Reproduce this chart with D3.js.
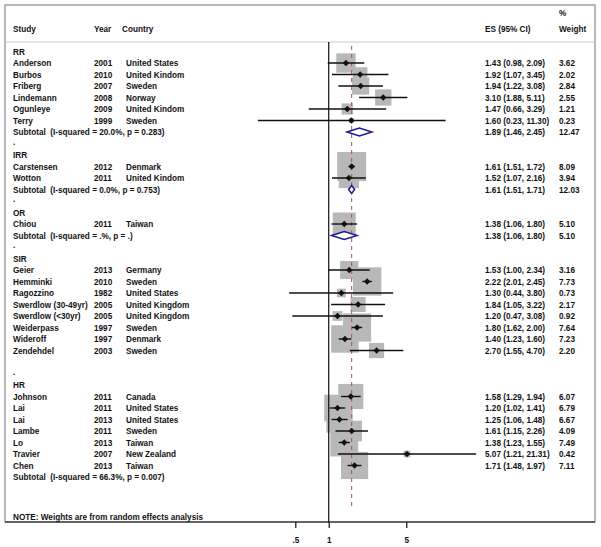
<!DOCTYPE html>
<html>
<head>
<meta charset="utf-8">
<script src="https://cdn.jsdelivr.net/npm/d3@7/dist/d3.min.js"></script>
<style>
  body { margin: 0; background: #fff; }
  svg { display: block; }
  text { font-family: Arial, "Liberation Sans", sans-serif; font-size: 8.2px; font-weight: bold; fill: #111; white-space: pre; }
</style>
</head>
<body>
<svg id="chart" width="601" height="547"></svg>
<script>
// ---- data ----
const groups = ["RR", "IRR", "OR", "SIR", "HR"];

const studyNames = ["Anderson", "Burbos", "Friberg", "Lindemann", "Ogunleye", "Terry",
  "Carstensen", "Wotton",
  "Chiou",
  "Geier", "Hemminki", "Ragozzino", "Swerdlow (30-49yr)", "Swerdlow (<30yr)", "Weiderpass", "Wideroff", "Zendehdel",
  "Johnson", "Lai", "Lai", "Lambe", "Lo", "Travier", "Chen"];
const studyGroup = ["RR", "RR", "RR", "RR", "RR", "RR",
  "IRR", "IRR",
  "OR",
  "SIR", "SIR", "SIR", "SIR", "SIR", "SIR", "SIR", "SIR",
  "HR", "HR", "HR", "HR", "HR", "HR", "HR"];
const years = ["2001", "2010", "2007", "2008", "2009", "1999",
  "2012", "2011",
  "2011",
  "2013", "2010", "1982", "2005", "2005", "1997", "1997", "2003",
  "2011", "2011", "2013", "2011", "2013", "2007", "2013"];
const countries = ["United States", "United Kindom", "Sweden", "Norway", "United Kindom", "Sweden",
  "Denmark", "United Kindom",
  "Taiwan",
  "Germany", "Sweden", "United States", "United Kingdom", "United Kingdom", "Sweden", "Denmark", "Sweden",
  "Canada", "United States", "United States", "Sweden", "Taiwan", "New Zealand", "Taiwan"];
const es    = [1.43, 1.92, 1.94, 3.10, 1.47, 1.60, 1.61, 1.52, 1.38, 1.53, 2.22, 1.30, 1.84, 1.20, 1.80, 1.40, 2.70, 1.58, 1.20, 1.25, 1.61, 1.38, 5.07, 1.71];
const lower = [0.98, 1.07, 1.22, 1.88, 0.66, 0.23, 1.51, 1.07, 1.06, 1.00, 2.01, 0.44, 1.05, 0.47, 1.62, 1.23, 1.55, 1.29, 1.02, 1.06, 1.15, 1.23, 1.21, 1.48];
const upper = [2.09, 3.45, 3.08, 5.11, 3.29, 11.30, 1.72, 2.16, 1.80, 2.34, 2.45, 3.80, 3.22, 3.08, 2.00, 1.60, 4.70, 1.94, 1.41, 1.48, 2.26, 1.55, 21.31, 1.97];
const weights = [3.62, 2.02, 2.84, 2.55, 1.21, 0.23, 8.09, 3.94, 5.10, 3.16, 7.73, 0.73, 2.17, 0.92, 7.64, 7.23, 2.20, 6.07, 6.79, 6.67, 4.09, 7.49, 0.42, 7.11];

// subtotals per group (null = not shown)
const subLabels = ["Subtotal  (I-squared = 20.0%, p = 0.283)", "Subtotal  (I-squared = 0.0%, p = 0.753)",
  "Subtotal  (I-squared = .%, p = .)", null, "Subtotal  (I-squared = 66.3%, p = 0.007)"];
const subES    = [1.89, 1.61, 1.38, null, null];
const subLower = [1.46, 1.51, 1.06, null, null];
const subUpper = [2.45, 1.71, 1.80, null, null];
const subW     = [12.47, 12.03, 5.10, null, null];

const overallES = 1.61;
const tickVals = [0.5, 1, 5];
const tickLabels = [".5", "1", "5"];

// ---- layout ----
const svg = d3.select("#chart");
const frame = { l: 5, t: 5, r: 595, b: 522 };
const rowY0 = 51.5, rowH = 11.5;
const colStudy = 13, colYear = 94, colCountry = 126, colES = 485, colW = 559;
const ink = "#111";
const boxFill = "#b8b8b8";
const navy = "#1c1c8e";

const x = d3.scaleLog().domain([0.5, 5]).range([295.3, 406.3]);
const fmt = d3.format(".2f");
const ciText = (e, l, u) => `${fmt(e)} (${fmt(l)}, ${fmt(u)})`;

// build row list
const rows = [];
let r = 0;
groups.forEach((g, gi) => {
  if (gi > 0) { rows.push({ type: "dot", i: r++ }); }
  rows.push({ type: "group", label: g, i: r++ });
  studyGroup.forEach((sg, k) => {
    if (sg === g) rows.push({ type: "study", k, i: r++ });
  });
  rows.push({ type: "sub", gi, i: r++ });
});
const yRow = i => rowY0 + rowH * i;

// frame
svg.append("rect").attr("x", frame.l).attr("y", frame.t)
  .attr("width", frame.r - frame.l).attr("height", frame.b - frame.t)
  .attr("fill", "none").attr("stroke", "#8a8a8a").attr("stroke-width", 1.2);
svg.append("line").attr("x1", frame.l).attr("x2", frame.r).attr("y1", 42).attr("y2", 42)
  .attr("stroke", "#c8c8c8").attr("stroke-width", 1);

// headers
const hdr = (tx, ty, t) => svg.append("text").attr("x", tx).attr("y", ty).text(t);
hdr(colStudy, 32, "Study");
hdr(colYear, 32, "Year");
hdr(122, 32, "Country");
hdr(colES, 32, "ES (95% CI)");
hdr(colW, 16, "%");
hdr(colW, 32, "Weight");

// weight boxes first
const studyRows = rows.filter(d => d.type === "study");
const boxK = 10.2;
svg.append("g").selectAll("rect").data(studyRows).join("rect")
  .attr("x", d => x(es[d.k]) - boxK * Math.sqrt(weights[d.k]) / 2)
  .attr("y", d => yRow(d.i) - boxK * Math.sqrt(weights[d.k]) / 2)
  .attr("width", d => boxK * Math.sqrt(weights[d.k]))
  .attr("height", d => boxK * Math.sqrt(weights[d.k]))
  .attr("fill", boxFill);

// null line and overall line
svg.append("line").attr("x1", x(1)).attr("x2", x(1)).attr("y1", 42).attr("y2", frame.b)
  .attr("stroke", ink).attr("stroke-width", 1.2);
svg.append("line").attr("x1", x(overallES)).attr("x2", x(overallES)).attr("y1", 46).attr("y2", 508)
  .attr("stroke", "#a0506e").attr("stroke-width", 1).attr("stroke-dasharray", "4,4");

// CI lines + markers
svg.append("g").selectAll("line").data(studyRows).join("line")
  .attr("x1", d => x(lower[d.k])).attr("x2", d => x(upper[d.k]))
  .attr("y1", d => yRow(d.i)).attr("y2", d => yRow(d.i))
  .attr("stroke", ink).attr("stroke-width", 1.4);
svg.append("g").selectAll("path").data(studyRows).join("path")
  .attr("d", d => { const cx = x(es[d.k]), cy = yRow(d.i), s = 3.2;
    return `M${cx - s},${cy}L${cx},${cy - s}L${cx + s},${cy}L${cx},${cy + s}Z`; })
  .attr("fill", ink);

// subtotal diamonds
const subRows = rows.filter(d => d.type === "sub" && subES[d.gi] != null);
svg.append("g").selectAll("path").data(subRows).join("path")
  .attr("d", d => { const cy = yRow(d.i), h = 4;
    return `M${x(subLower[d.gi])},${cy}L${x(subES[d.gi])},${cy - h}L${x(subUpper[d.gi])},${cy}L${x(subES[d.gi])},${cy + h}Z`; })
  .attr("fill", "#fff").attr("stroke", navy).attr("stroke-width", 1.5);

// row text
const base = 3;
rows.forEach(d => {
  const ty = yRow(d.i) + base;
  if (d.type === "dot") svg.append("text").attr("x", colStudy).attr("y", ty - 2).text(".");
  if (d.type === "group") svg.append("text").attr("x", colStudy).attr("y", ty).text(d.label);
  if (d.type === "study") {
    svg.append("text").attr("x", colStudy).attr("y", ty).text(studyNames[d.k]);
    svg.append("text").attr("x", colYear).attr("y", ty).text(years[d.k]);
    svg.append("text").attr("x", colCountry).attr("y", ty).text(countries[d.k]);
    svg.append("text").attr("x", colES).attr("y", ty).text(ciText(es[d.k], lower[d.k], upper[d.k]));
    svg.append("text").attr("x", colW).attr("y", ty).text(fmt(weights[d.k]));
  }
  if (d.type === "sub" && subLabels[d.gi]) {
    svg.append("text").attr("x", colStudy).attr("y", ty).text(subLabels[d.gi]);
    if (subES[d.gi] != null) {
      svg.append("text").attr("x", colES).attr("y", ty).text(ciText(subES[d.gi], subLower[d.gi], subUpper[d.gi]));
      svg.append("text").attr("x", colW).attr("y", ty).text(fmt(subW[d.gi]));
    }
  }
});

svg.append("text").attr("x", colStudy).attr("y", 520).text("NOTE: Weights are from random effects analysis");

// axis
const axis = d3.axisBottom(x).tickValues(tickVals)
  .tickFormat((v, i) => tickLabels[i]).tickSize(6).tickPadding(9).tickSizeOuter(0);
const ax = svg.append("g").attr("transform", `translate(0,${frame.b})`).call(axis);
ax.select(".domain").remove();
ax.selectAll("line").attr("stroke", ink).attr("stroke-width", 1.2);
ax.selectAll("text").attr("font-size", 8.5).attr("font-family", "Arial, 'Liberation Sans', sans-serif")
  .attr("fill", ink);
svg.append("line").attr("x1", frame.l).attr("x2", frame.r).attr("y1", frame.b).attr("y2", frame.b)
  .attr("stroke", ink).attr("stroke-width", 1.2);
</script>
</body>
</html>
